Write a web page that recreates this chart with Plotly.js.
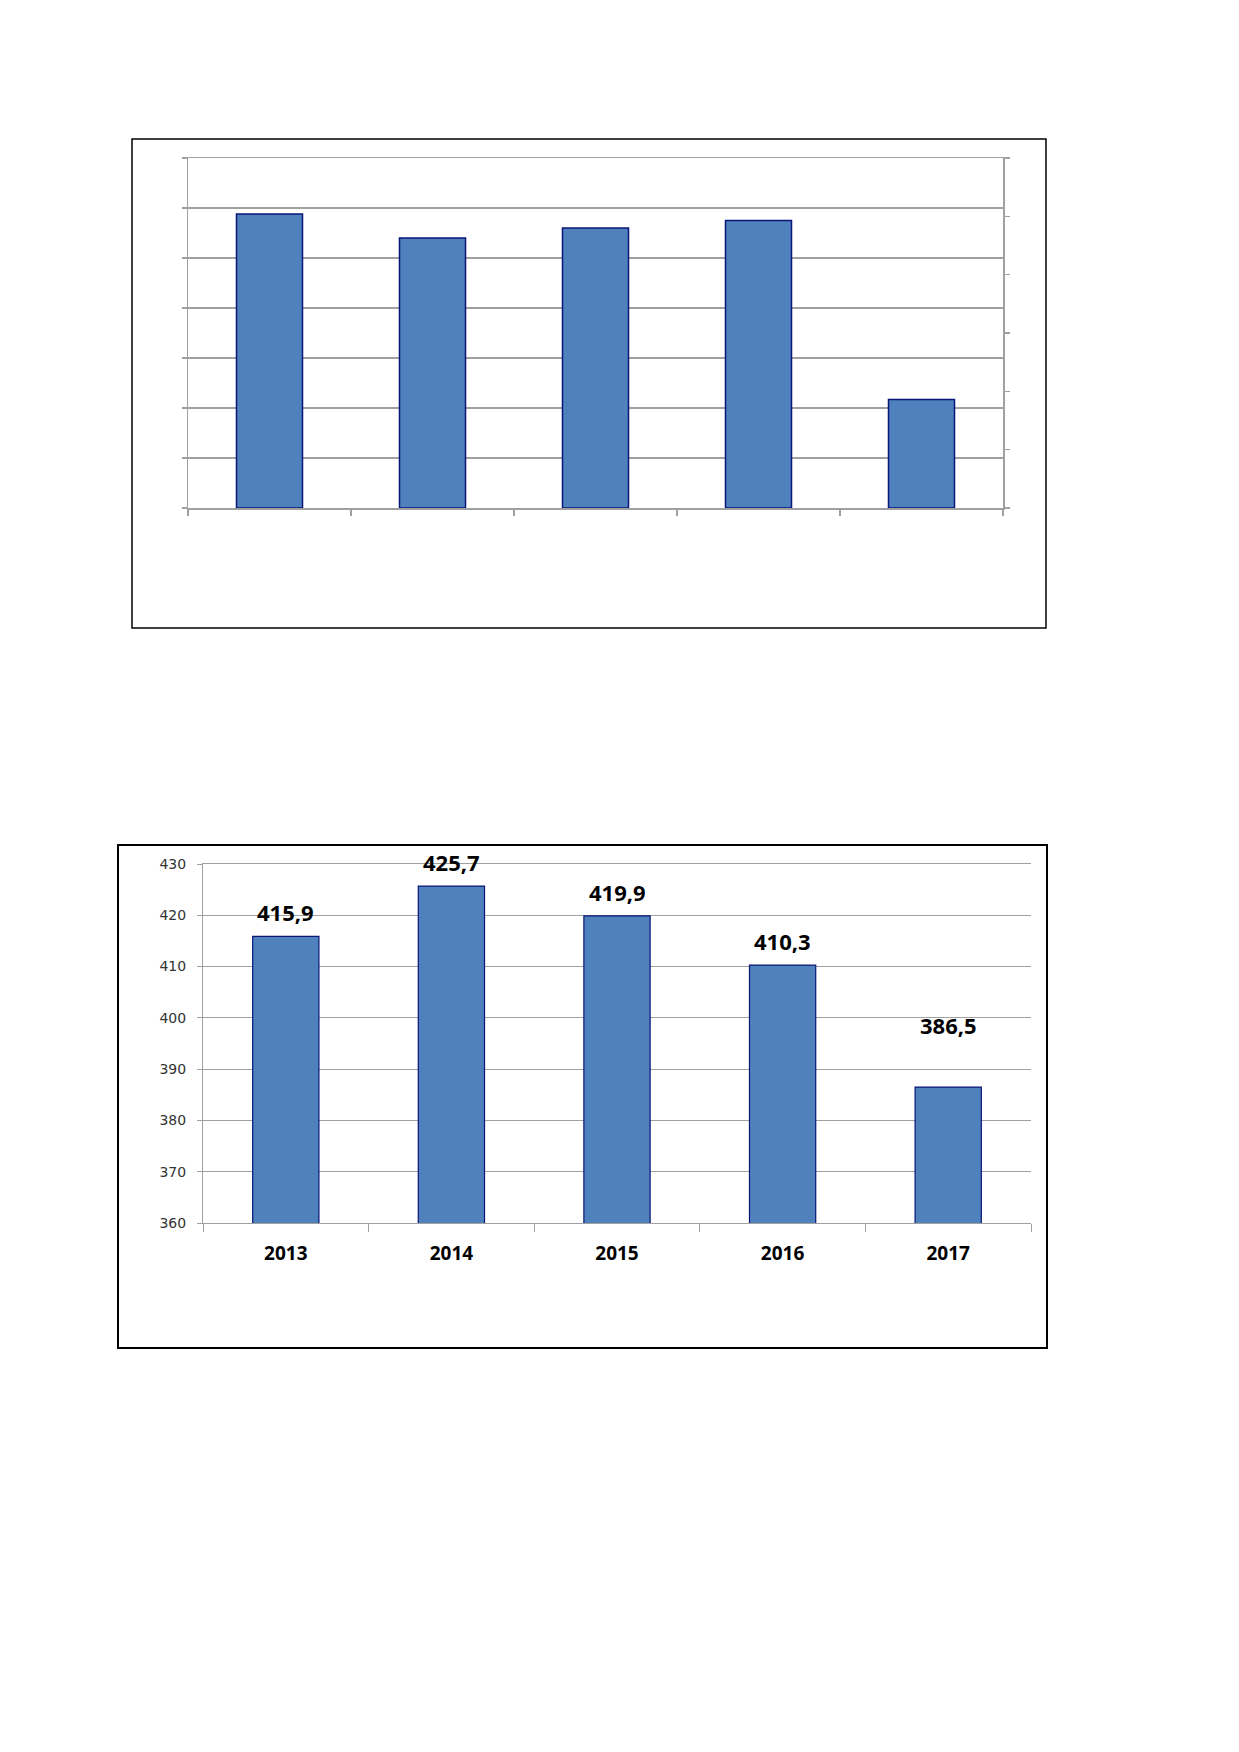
<!DOCTYPE html>
<html>
<head>
<meta charset="utf-8">
<script src="https://cdn.plot.ly/plotly-3.0.1.min.js"></script>
<style>
  html, body { margin: 0; padding: 0; background: #fff; }
  #page { width: 1239px; height: 1752px; }
</style>
</head>
<body>
<div id="page"></div>
<script>
// Two Excel-style column charts on one page: upper one without any labels, lower one with values.
const years = ["2013", "2014", "2015", "2016", "2017"];

// upper chart carries no numbers, heights read in gridline steps (0..7)
const upperValues = [5.88, 5.40, 5.60, 5.75, 2.17];

// lower chart
const lowerValues = [415.9, 425.7, 419.9, 410.3, 386.5];
const lowerTicks = [360, 370, 380, 390, 400, 410, 420, 430];

const W = 1239, H = 1752;
const px = (x) => x / W;
const py = (y) => 1 - y / H;

const BAR_FILL = "#4f81bd";
const BAR_LINE = "#0a1677";
const GRID = "#a0a0a0";

// label lift above bar top (px); the 2017 label sits higher in the original
const labelLift = [7, 7, 7, 7, 45];

const fmt = (v) => v.toFixed(1).replace(".", ",");

const traces = [
  {
    type: "bar", x: years, y: upperValues,
    xaxis: "x", yaxis: "y",
    width: 0.405,
    marker: { color: BAR_FILL, line: { color: BAR_LINE, width: 1.5 } },
    hoverinfo: "skip",
  },
  // invisible carrier so the right-hand axis of the upper chart gets drawn
  {
    type: "scatter", mode: "markers", x: years, y: upperValues,
    xaxis: "x", yaxis: "y3",
    marker: { opacity: 0 },
    hoverinfo: "skip",
  },
  {
    type: "bar", x: years, y: lowerValues,
    xaxis: "x2", yaxis: "y2",
    width: 0.4,
    marker: { color: BAR_FILL, line: { color: BAR_LINE, width: 1.2 } },
    hoverinfo: "skip",
  },
];

const annotations = lowerValues.map((v, i) => ({
  xref: "x2", yref: "y2",
  x: i, y: v,
  text: fmt(v),
  showarrow: false,
  xanchor: "center", yanchor: "bottom",
  yshift: labelLift[i],
  font: { family: "Open Sans, sans-serif", size: 22, weight: "bold", color: "#000" },
}));

const layout = {
  width: W, height: H,
  margin: { t: 0, r: 0, b: 0, l: 0 },
  paper_bgcolor: "#fff",
  plot_bgcolor: "rgba(0,0,0,0)",
  showlegend: false,
  bargap: 0.6,
  font: { family: "DejaVu Sans, sans-serif", size: 14, color: "#222" },

  // ---------------- upper chart ----------------
  xaxis: {
    domain: [px(188), px(1003)],
    anchor: "y",
    type: "category",
    categoryarray: years,
    range: [-0.5, 4.5],
    showticklabels: false,
    showgrid: false,
    // mirrored line stands in for the top gridline, which plotly skips at the edge
    showline: true, mirror: true, linecolor: GRID, linewidth: 1.5,
    ticks: "outside", ticklen: 6, tickcolor: GRID, tickwidth: 1.5,
    tickson: "boundaries",
  },
  yaxis: {
    domain: [py(508), py(158)],
    anchor: "x",
    range: [0, 7], dtick: 1, tick0: 0,
    showticklabels: false,
    showgrid: true, gridcolor: GRID, gridwidth: 1.5,
    zeroline: false,
    showline: true, linecolor: GRID, linewidth: 1.5,
    ticks: "outside", ticklen: 5, tickcolor: GRID, tickwidth: 1.5,
  },
  yaxis3: {
    overlaying: "y",
    anchor: "x",
    side: "right",
    range: [0, 6], dtick: 1, tick0: 0,
    showticklabels: false,
    showgrid: false, zeroline: false,
    showline: true, linecolor: GRID, linewidth: 1.5,
    ticks: "outside", ticklen: 5, tickcolor: GRID, tickwidth: 1.5,
  },

  // ---------------- lower chart ----------------
  xaxis2: {
    domain: [px(203), px(1031)],
    anchor: "y2",
    type: "category",
    categoryarray: years,
    range: [-0.5, 4.5],
    showgrid: false,
    showline: true, mirror: true, linecolor: GRID, linewidth: 1,
    ticks: "outside", ticklen: 8, tickcolor: GRID,
    tickson: "boundaries",
    tickangle: 0,
    tickfont: { family: "Open Sans, sans-serif", size: 19, weight: "bold", color: "#000" },
    ticklabelstandoff: 13,
  },
  yaxis2: {
    domain: [py(1223), py(864)],
    anchor: "x2",
    range: [360, 430],
    tickvals: lowerTicks,
    showgrid: true, gridcolor: GRID, gridwidth: 1,
    zeroline: false,
    showline: true, linecolor: GRID, linewidth: 1,
    ticks: "outside", ticklen: 5, tickcolor: GRID,
    tickfont: { family: "DejaVu Sans, sans-serif", size: 14, color: "#333" },
    ticklabelstandoff: 8,
  },

  annotations,

  shapes: [
    {
      type: "rect", xref: "paper", yref: "paper",
      x0: px(132), x1: px(1046), y0: py(628), y1: py(139),
      line: { color: "#000", width: 1.5 },
    },
    {
      type: "rect", xref: "paper", yref: "paper",
      x0: px(118), x1: px(1047), y0: py(1348), y1: py(845),
      line: { color: "#000", width: 2 },
    },
  ],
};

Plotly.newPlot("page", traces, layout, { staticPlot: true, displayModeBar: false });
</script>
</body>
</html>
